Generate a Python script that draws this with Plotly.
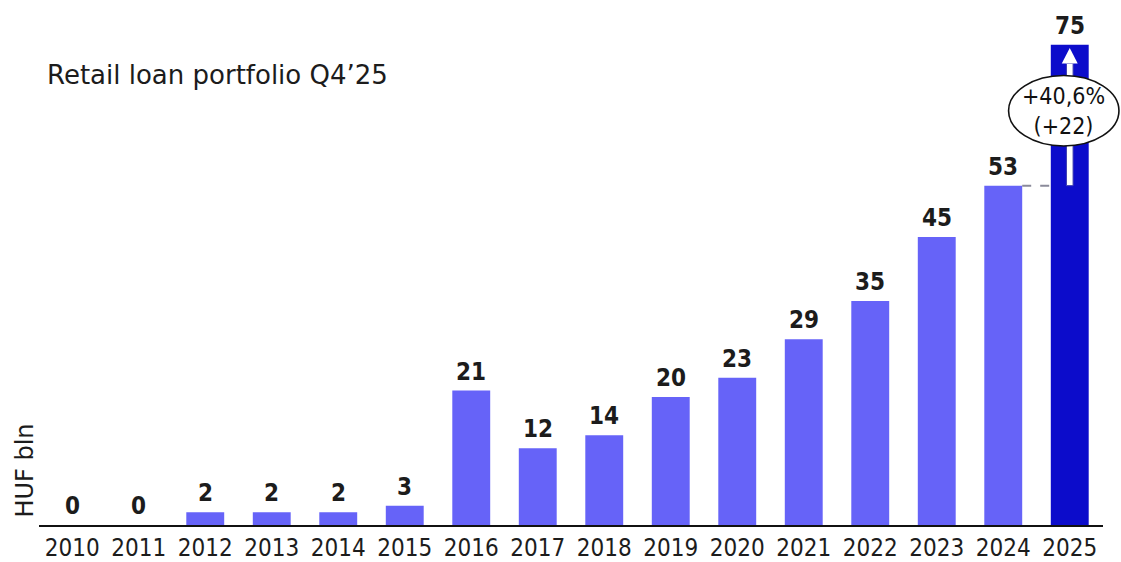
import plotly.graph_objects as go

# Retail loan portfolio, HUF bln, year-end values
years = ["2010", "2011", "2012", "2013", "2014", "2015", "2016", "2017",
         "2018", "2019", "2020", "2021", "2022", "2023", "2024", "2025"]
portfolio = [0, 0, 2, 2, 2, 3, 21, 12, 14, 20, 23, 29, 35, 45, 53, 75]
growth_pct_text = "+40,6%"
growth_abs_text = "(+22)"

LIGHT = "#6663F8"
DARK = "#0C0CCB"
INK = "#1c1c1c"
COND = "DejaVu Sans Condensed, DejaVu Sans, sans-serif"

xs = list(range(len(years)))
colors = [LIGHT] * (len(years) - 1) + [DARK]

X0, X1 = -0.5, len(years) - 0.5
Y0, Y1 = 0, 82.0
BAR_W = 0.57
ML, MR, MT, MB = 39, 18, 0, 31
W, H = 1121, 562

def px(x):
    return (x - X0) / (X1 - X0)

def py(y):
    return (y - Y0) / (Y1 - Y0)

fig = go.Figure()
fig.add_trace(go.Bar(
    x=xs, y=portfolio, width=BAR_W, marker=dict(color=colors, line=dict(width=0)),
    hoverinfo="skip", showlegend=False,
))

# value labels above bars
for x, v in zip(xs, portfolio):
    fig.add_annotation(
        x=x, y=v, xref="x", yref="y", text=str(v), showarrow=False,
        yanchor="bottom", yshift=3,
        font=dict(family=COND, size=24, color=INK, weight="bold"),
    )

last, prev = xs[-1], xs[-2]
v_last, v_prev = portfolio[-1], portfolio[-2]

shapes = []
# dashed guide from previous year's level to the last bar
shapes.append(dict(
    type="line", xref="x", yref="y",
    x0=prev + BAR_W / 2, x1=last - BAR_W / 2, y0=v_prev, y1=v_prev,
    line=dict(color="#8a8a9a", width=2, dash="dash"),
))
# white arrow inside the last bar, from previous level upwards
shaft_w = 0.05
head_w = 0.12
head_base = v_last - 2.9
head_tip = v_last - 0.5
shapes.append(dict(
    type="rect", xref="x", yref="y",
    x0=last - shaft_w, x1=last + shaft_w, y0=v_prev, y1=head_base,
    fillcolor="white", line=dict(color="#3a3ab0", width=1),
))
shapes.append(dict(
    type="path", xref="x", yref="y",
    path=(f"M {last - head_w} {head_base} L {last} {head_tip} "
          f"L {last + head_w} {head_base} Z"),
    fillcolor="white", line=dict(color="white", width=0),
))
# ellipse callout (paper coords so it is not clipped)
ecx, ecy = last - 0.09, (v_last + v_prev) / 2 + 0.7
erx, ery = 0.83, 5.5
shapes.append(dict(
    type="circle", xref="paper", yref="paper",
    x0=px(ecx - erx), x1=px(ecx + erx), y0=py(ecy - ery), y1=py(ecy + ery),
    fillcolor="white", line=dict(color="#111111", width=1.6),
))
fig.add_annotation(
    x=px(ecx), y=py(ecy), xref="paper", yref="paper",
    xanchor="center", yanchor="middle",
    text=f"{growth_pct_text}<br>{growth_abs_text}", showarrow=False,
    font=dict(family=COND, size=23, color="#111111"),
)

# axis title, placed in pixel terms relative to the plot area
plot_w = W - ML - MR
plot_h = H - MT - MB
fig.add_annotation(
    x=(25 - ML) / plot_w, y=(H - MB - 476) / plot_h, xref="paper", yref="paper",
    xanchor="center", yanchor="middle",
    text="HUF bln", showarrow=False, textangle=-90,
    font=dict(family="DejaVu Sans, sans-serif", size=24, color=INK),
)

fig.update_layout(
    width=W, height=H,
    margin=dict(l=ML, r=MR, t=MT, b=MB),
    paper_bgcolor="white", plot_bgcolor="white",
    shapes=shapes,
    title=dict(
        text="Retail loan portfolio Q4\u201925",
        x=47 / W, xanchor="left", xref="container",
        y=1 - 75 / H, yanchor="middle", yref="container",
        font=dict(family="DejaVu Sans, sans-serif", size=26, color=INK),
    ),
    xaxis=dict(
        range=[X0, X1], tickvals=xs, ticktext=years, showgrid=False,
        zeroline=False, showline=True, linecolor="#111111", linewidth=2,
        ticks="", tickfont=dict(family=COND, size=24, color=INK),
        fixedrange=True,
    ),
    yaxis=dict(
        range=[Y0, Y1], visible=False, showgrid=False, zeroline=False,
        fixedrange=True,
    ),
)

fig.write_html("out.html")
